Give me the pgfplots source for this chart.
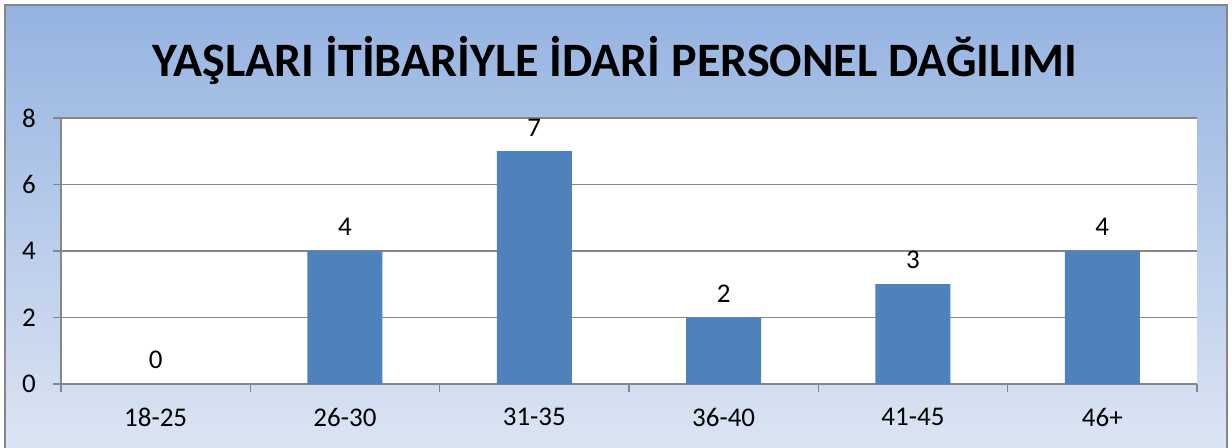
\documentclass[border=0pt]{standalone}
\usepackage{fontspec}
\setmainfont{Carlito}
\usepackage{pgfplots}
\pgfplotsset{compat=1.18}
\definecolor{barblue}{HTML}{4F81BD}
\definecolor{bgtop}{HTML}{95B3E1}
\definecolor{bgbot}{HTML}{DCE5F3}
\definecolor{gridgray}{HTML}{868686}
\begin{document}
\begin{tikzpicture}
\useasboundingbox (0,0) rectangle (616pt,224pt);
\shade[top color=bgtop, bottom color=bgbot] (2.5pt,-3pt) rectangle (613.5pt,221.5pt);
\draw[gridgray, line width=0.8pt] (2.5pt,-3pt) rectangle (613.5pt,221.5pt);
\node[font=\fontsize{24}{28}\selectfont\bfseries] at (307.5pt,194pt) {YAŞLARI İTİBARİYLE İDARİ PERSONEL DAĞILIMI};
\begin{axis}[
    at={(30.5pt,32pt)}, anchor=south west,
    scale only axis, width=568pt, height=133pt,
    axis background/.style={fill=white},
    xmin=-0.5, xmax=5.5, ymin=0, ymax=8,
    axis x line*=bottom, axis y line*=left,
    axis line style={-, draw=gridgray, line width=0.8pt},
    xtick={0,...,5},
    xticklabels={18-25,26-30,31-35,36-40,41-45,46+},
    minor xtick={-0.5,0.5,...,5.5},
    major x tick style={draw=none},
    minor x tick style={draw=gridgray, line width=0.8pt},
    ytick={0,2,...,8},
    y tick style={draw=gridgray, line width=0.8pt},
    tick align=outside,
    major tick length=4pt, minor tick length=4pt,
    ymajorgrids, grid style={draw=gridgray, line width=0.8pt},
    tick label style={font=\fontsize{13.5}{15}\selectfont},
    /pgf/number format/assume math mode=true,
    xticklabel style={yshift=-4.5pt},
    yticklabel style={xshift=-5pt},
    ybar, bar width=37.5pt,
    nodes near coords,
    nodes near coords style={font=\fontsize{13.5}{15}\selectfont, anchor=south, yshift=4pt},
]
\addplot[fill=barblue, draw=none] coordinates {(0,0) (1,4) (2,7) (3,2) (4,3) (5,4)};
\end{axis}
\end{tikzpicture}
\end{document}
